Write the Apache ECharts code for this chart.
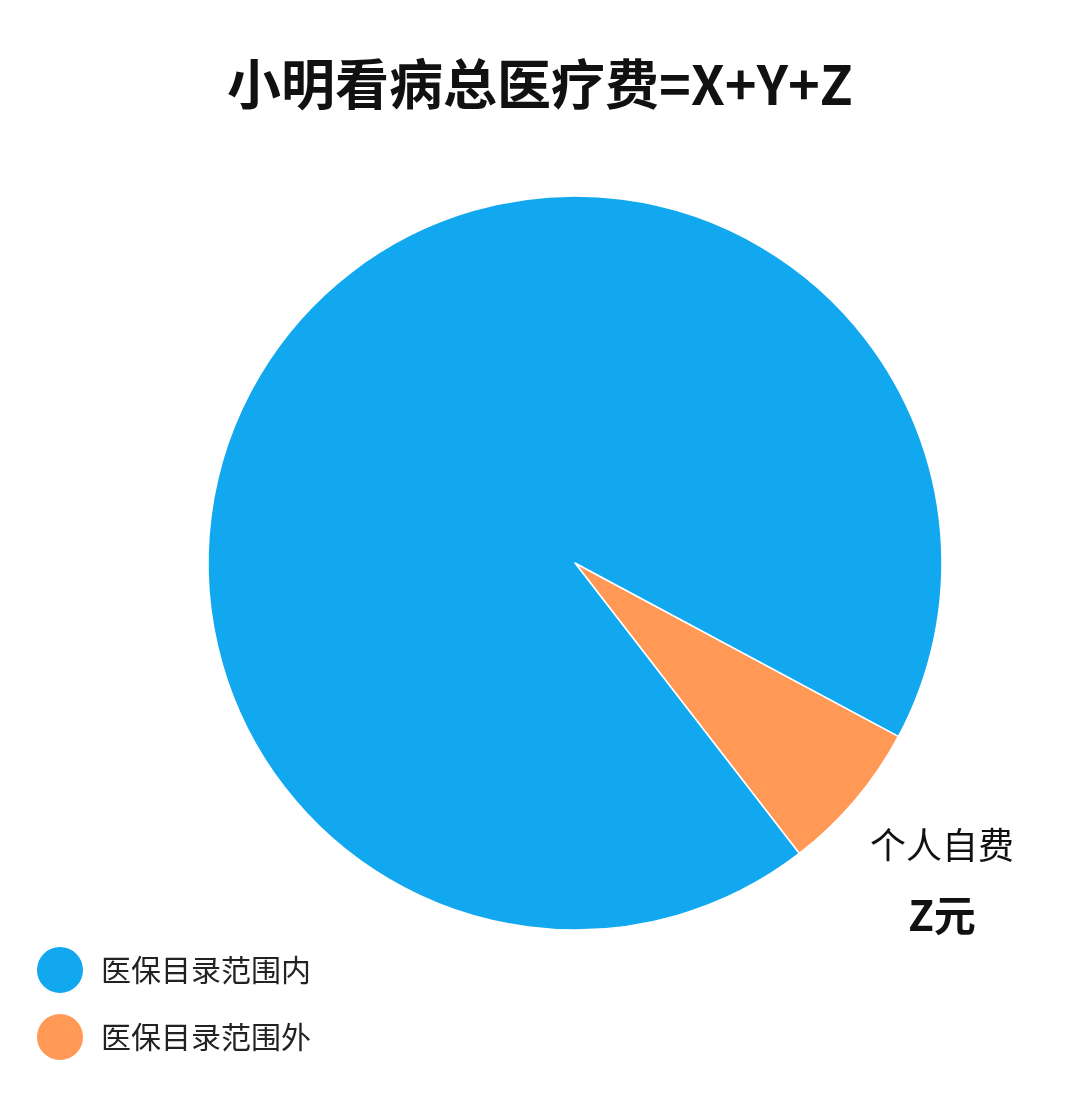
<!DOCTYPE html>
<html><head><meta charset="utf-8">
<script src="https://cdn.jsdelivr.net/npm/echarts@6/dist/echarts.min.js"></script>
<style>html,body{margin:0;padding:0;background:#fff}#c{width:1080px;height:1109px}</style>
</head><body><div id="c"></div>
<script>
const categories = ['医保目录范围外', '医保目录范围内'];
const values = [6.7, 93.3];
const colors = ['#FF9955', '#12A8EF'];
const titleText = '小明看病总医疗费=X+Y+Z';
const F = '"Noto Sans CJK SC", sans-serif';
const chart = echarts.init(document.getElementById('c'));
function t(x, y, text, size, color, weight) {
  return {type:'text', left:x, top:y, style:{text, x:0, y:0, fontSize:size, fill:color, fontWeight:weight, fontFamily:F, textAlign:'center', textVerticalAlign:'middle'}};
}
function tc(x, y, text, size, color, weight) {
  return {type:'text', x, y, style:{text, fontSize:size, fill:color, fontWeight:weight, fontFamily:F, align:'center', verticalAlign:'middle'}};
}
chart.setOption({
  animation:false,
  title:{text:titleText, left:'center', top:52, textStyle:{fontSize:54, fontWeight:'bold', color:'#111', fontFamily:F}},
  legend:{orient:'vertical', left:30, top:940, itemWidth:48, itemHeight:48, itemGap:17, icon:'circle',
    data:[categories[1], categories[0]],
    textStyle:{fontSize:30, color:'#222', fontFamily:F, padding:[0,0,0,12]}},
  series:[{type:'pie', center:[575,563], radius:367, startAngle:-28.2, clockwise:true,
    label:{show:false}, emphasis:{disabled:true},
    itemStyle:{borderColor:'#fff', borderWidth:1.5},
    data:categories.map((n,i)=>({name:n, value:values[i], itemStyle:{color:colors[i]}}))}],
  graphic:[
    tc(420,393,'医保报销',36,'#fff','bold'),
    tc(420,462,'（医保统筹支付）',36,'#fff','bold'),
    tc(420,532,'X元',42,'#fff','bold'),
    tc(630,465,'＋',80,'#fff','bold'),
    tc(768,427,'个人自付',36,'#fff','bold'),
    tc(768,505,'Y元',42,'#fff','bold'),
    tc(942,845,'个人自费',36,'#111','normal'),
    tc(942,915,'Z元',42,'#111','bold')
  ]
});
</script></body></html>
